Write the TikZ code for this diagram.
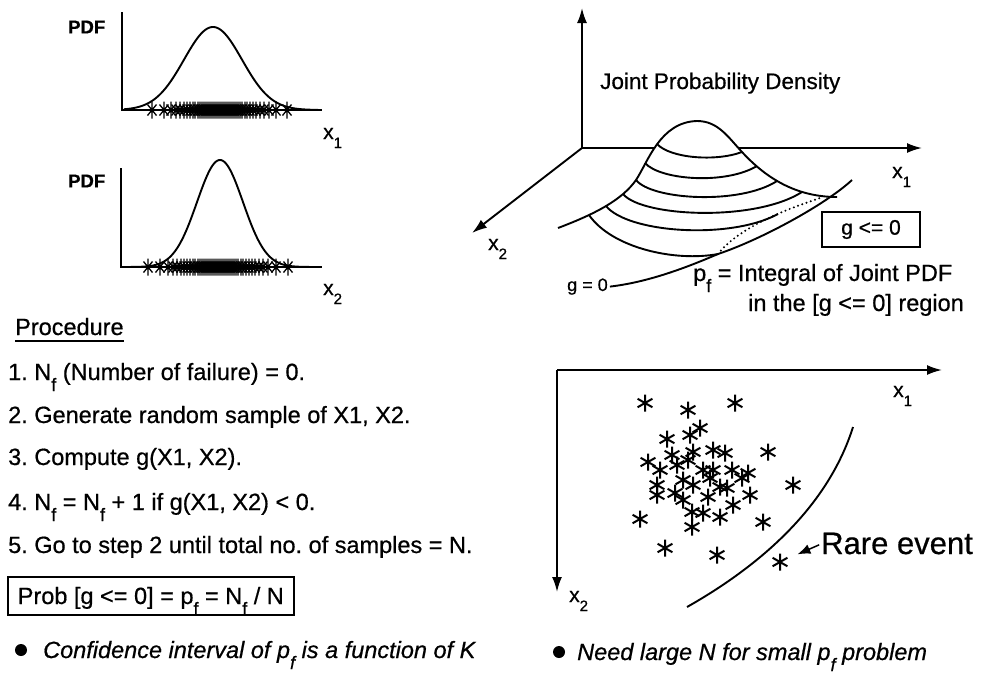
\documentclass[tikz,border=0pt]{standalone}
\usepackage{fontspec}
\setmainfont{Liberation Sans}[FakeBold=0.6]
\usetikzlibrary{arrows.meta}
\newcommand{\sbf}{\raisebox{-11pt}{\fontsize{18}{18}\selectfont f}}
\newcommand{\xsub}[1]{x\raisebox{-9pt}{\fontsize{15}{15}\selectfont #1}}
\begin{document}
\frenchspacing
\begin{tikzpicture}[x=1pt,y=-1pt,
  lbl/.style={inner sep=0pt, anchor=base west, font=\fontsize{23.5}{27}\selectfont},
  axlbl/.style={inner sep=0pt, anchor=base west, font=\fontsize{21}{24}\selectfont},
  pdflbl/.style={inner sep=0pt, anchor=west, font=\bfseries\fontsize{18.5}{20}\selectfont},
  ax/.style={line width=1.6pt},
  axarr/.style={line width=1.9pt, -{Latex[length=15pt,width=10pt]}},
  crv/.style={line width=1.9pt},
  tk/.pic={\draw[line width=1.3pt] (0,-8.5)--(0,8.5) (-4.5,-5.5)--(4.5,5.5) (-4.5,5.5)--(4.5,-5.5);},
  ast/.pic={\draw[line width=2pt] (0,-8.5)--(0,8.5) (-7.4,-4.25)--(7.4,4.25) (-7.4,4.25)--(7.4,-4.25);},
]
\fill[white] (0,0) rectangle (987,673);
\useasboundingbox (0,0) rectangle (987,673);

% ---------- PDF plot 1 ----------
\coordinate (O1) at (122,110);
\coordinate (T1) at (122,12);
\coordinate (E1) at (322,110);
\draw[ax] (T1) -- (O1) -- (E1);
\draw[crv] plot[domain=124:318, samples=150, smooth] (\x,{110-83*exp(-((\x-213)^2)/1682)});
\foreach \d in {-68,-56,-49,-44,-40,-36,-33,-30,-27,-25,-22,-20,-18,-16,-14,-12,-10,-8,-6,-4,-2,0,2,4,6,8,10,12,14,16,18,20,22,25,27,30,33,36,40,44,49,56,67}
  \pic at ({220+\d},110) {tk};
\node[pdflbl] (pdf1) at (68,27) {PDF};
\node[axlbl] (xa1) at (323,139) {\xsub{1}};

% ---------- PDF plot 2 ----------
\coordinate (O2) at (121,267);
\coordinate (T2) at (121,168);
\coordinate (E2) at (322,267);
\draw[ax] (T2) -- (O2) -- (E2);
\draw[crv] plot[domain=123:318, samples=150, smooth] (\x,{267-107*exp(-((\x-220)^2)/1058)});
\foreach \d in {-70,-58,-50,-45,-41,-37,-34,-31,-28,-25,-23,-20,-18,-16,-14,-12,-10,-8,-6,-4,-2,0,2,4,6,8,10,12,14,16,18,20,23,25,28,31,34,37,41,45,50,58,70}
  \pic at ({218+\d},267) {tk};
\node[pdflbl] (pdf2) at (68,181) {PDF};
\node[axlbl] (xa2) at (323,295) {\xsub{2}};

% ---------- Procedure ----------
\node[lbl] (proc) at (15,335) {Procedure};
\draw[line width=1.3pt] ([yshift=-6pt]proc.base west) -- ([yshift=-6pt]proc.base east);
\node[lbl] (s1) at (8,380) {1. N\sbf\ (Number of failure) = 0.};
\node[lbl] (s2) at (8,423) {2. Generate random sample of X1, X2.};
\node[lbl] (s3) at (8,465) {3. Compute g(X1, X2).};
\node[lbl] (s4) at (8,510) {4. N\sbf\ = N\sbf\ + 1 if g(X1, X2) < 0.};
\node[lbl] (s5) at (8,553) {5. Go to step 2 until total no. of samples = N.};
\node[lbl, draw, line width=1.6pt, inner xsep=10pt, inner ysep=8pt, text height=19pt, text depth=3pt] (prob) at (7,604) {Prob [g <= 0] = p\sbf\ = N\sbf\ / N};
\fill (21,650) circle (6);
\node[lbl, font=\itshape\fontsize{23.5}{27}\selectfont] (conf) at (43,658) {Confidence interval of p\sbf\ is a function of K};

% ---------- 3D joint PDF ----------
\coordinate (O3) at (582,148);
\coordinate (Z3) at (582,8);
\coordinate (X31) at (922,148);
\coordinate (X32) at (472,233);
\draw[axarr] (O3) -- (Z3);
\draw[axarr] (O3) -- (X31);
\draw[axarr] (O3) -- (X32);
\node[lbl, font=\fontsize{22.5}{26}\selectfont] (jpd) at (600,89) {Joint Probability Density};
\node[axlbl] (x31) at (892,178) {\xsub{1}};
\node[axlbl] (x32) at (488,250) {\xsub{2}};
% hill
\fill[white] (558,228) .. controls (595,214) and (622,200) .. (636,180) .. controls (648,162) and (660,122) .. (697,121) .. controls (718,121) and (728,137) .. (742,152) .. controls (765,177) and (795,197) .. (837,197) -- (823,197) .. controls (790,208) and (740,226) .. (718,254) .. controls (675,262) and (612,248) .. (589,215) -- cycle;
\draw[crv] (558,228) .. controls (595,214) and (622,200) .. (636,180) .. controls (648,162) and (660,122) .. (697,121) .. controls (718,121) and (728,137) .. (742,152) .. controls (765,177) and (795,197) .. (837,197);
\draw[crv] (657,144) .. controls (670,158) and (715,162) .. (742,152);
\draw[crv] (645,163) .. controls (660,180) and (725,185) .. (757,166);
\draw[crv] (636,180) .. controls (652,200) and (740,205) .. (777,181);
\draw[crv] (623,194) .. controls (642,217) and (755,222) .. (802,192);
\draw[crv] (606,206) .. controls (628,233) and (730,240) .. (778,214);
\draw[crv] (589,215) .. controls (612,248) and (675,262) .. (718,254);
\draw[line width=2.2pt, line cap=round, dash pattern=on 0pt off 4.5pt] (718,254) .. controls (740,226) and (790,208) .. (823,197);
\node[inner sep=2pt, anchor=base west, font=\fontsize{18}{20}\selectfont] (g0) at (565,291) {g = 0};
\draw[crv] (g0.east) .. controls (650,282) and (690,266) .. (718,254) .. controls (760,240) and (825,205) .. (852,180);
\node[draw, line width=1.6pt, minimum width=98pt, minimum height=35pt, inner sep=0pt, font=\fontsize{21}{24}\selectfont] (gbox) at (871,229.5) {g <= 0};
\node[lbl] (pf1) at (693,281) {p\sbf\ = Integral of Joint PDF};
\node[lbl] (pf2) at (748,311) {in the [g <= 0] region};

% ---------- 2D sample plot ----------
\coordinate (O4) at (557,370);
\coordinate (X41) at (942,370);
\coordinate (X42) at (557,592);
\draw[axarr] (O4) -- (X41);
\draw[axarr] (O4) -- (X42);
\node[axlbl] (x41) at (893,397) {\xsub{1}};
\node[axlbl] (x42) at (569,602) {\xsub{2}};
\draw[crv] (687,607) .. controls (770,560) and (830,500) .. (853,427);
\foreach \p in {(645,403),(688,410),(735,403),(700,428),(690,435),(667,439),(768,452),(648,462),(672,455),(693,452),(713,450),(725,453),(660,470),(677,465),(688,460),(703,470),(713,470),(732,470),(748,473),(742,478),(793,485),(657,485),(683,480),(693,485),(710,478),(720,487),(657,495),(675,493),(683,500),(708,497),(727,488),(750,495),(733,505),(692,512),(703,513),(720,517),(640,519),(763,522),(692,527),(665,548),(717,555)}
  \pic at \p {ast};
\coordinate (rarestar) at (780,562);
\pic at (rarestar) {ast};
\node[inner sep=0pt, anchor=base west, font=\fontsize{31}{34}\selectfont] (rare) at (821,554) {Rare event};
\draw[line width=1.5pt, -{Latex[length=13pt,width=10pt]}, shorten <=2pt, shorten >=19pt] ([yshift=10pt]rare.base west) -- (rarestar);
\fill (559,652) circle (6);
\node[lbl, font=\itshape\fontsize{23.5}{27}\selectfont] (need) at (577,660) {Need large N for small p\sbf\ problem};
\end{tikzpicture}
\end{document}
